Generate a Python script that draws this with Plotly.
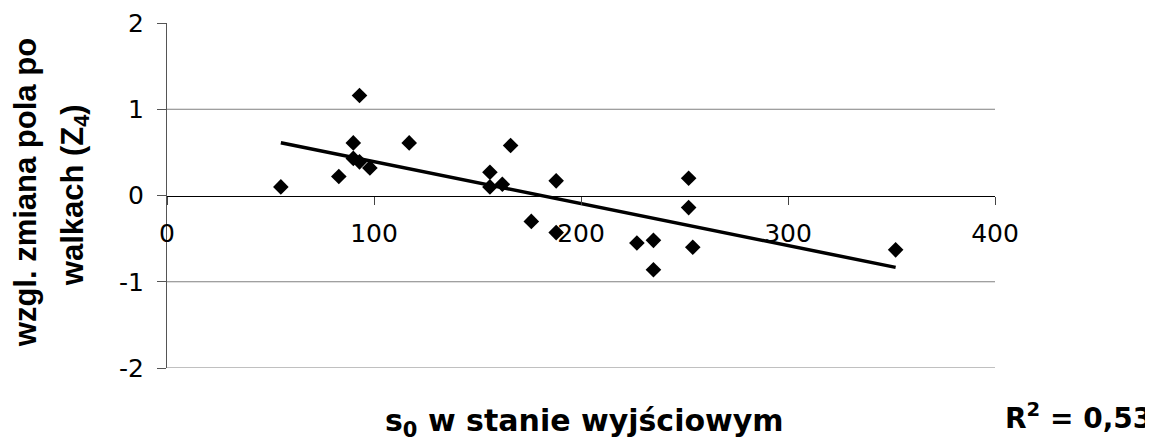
import numpy as np
import plotly.graph_objects as go

# Data
s0 = [55, 83, 90, 93, 90, 93, 98, 117, 156, 156, 162, 166, 188, 176, 188,
      227, 235, 235, 252, 252, 254, 352]
z4 = [0.10, 0.22, 0.61, 1.16, 0.43, 0.39, 0.32, 0.61, 0.27, 0.10, 0.13, 0.58,
      0.17, -0.30, -0.43, -0.55, -0.52, -0.86, 0.20, -0.14, -0.60, -0.63]
x_ticks = [0, 100, 200, 300, 400]
x_ticklabels = ["0", "100", "200", "300", "400"]
y_ticks = [-2, -1, 0, 1, 2]
y_ticklabels = ["-2", "-1", "0", "1", "2"]
grid_levels = [1, -1, -2]
x_title = "s<sub>0</sub> w stanie wyjściowym"
y_title_1 = "wzgl. zmiana pola po"
y_title_2 = "walkach (Z<sub>4</sub>)"
r2_text = "R<sup>2</sup> = 0,53"

# Linear trend from the data
coef = np.polyfit(s0, z4, 1)
tx = np.array([min(s0), max(s0)])
ty = np.polyval(coef, tx)

W, H = 1153, 443
OFF = 8  # page offset of the plot div
L, T = 167, 23          # screen pixel of plot area left / top
PW, PH = 828.5, 344.7   # plot area size
Lf, Tf = L - OFF, T - OFF
Rf = W - Lf - PW
Bf = H - Tf - PH


def px(xp):
    return (xp - L) / PW


def py(yp):
    return (T + PH - yp) / PH


FONT = "DejaVu Sans, sans-serif"
FONT_Y = "Liberation Sans, Arial, sans-serif"

fig = go.Figure()
fig.add_trace(go.Scatter(x=s0, y=z4, mode="markers",
                         marker=dict(symbol="diamond", size=12, color="black",
                                     line=dict(width=0)),
                         showlegend=False, cliponaxis=False))
fig.add_trace(go.Scatter(x=tx, y=ty, mode="lines",
                         line=dict(color="black", width=3.5),
                         showlegend=False))

for g in grid_levels:
    fig.add_shape(type="line", xref="x", yref="y", x0=0, x1=400, y0=g, y1=g,
                  line=dict(color="#808080", width=1), layer="below")

fig.update_layout(
    template="none",
    width=W, height=H,
    margin=dict(l=Lf, r=Rf, t=Tf, b=Bf, pad=0, autoexpand=False),
    paper_bgcolor="white", plot_bgcolor="white",
    font=dict(family=FONT, color="black"),
    xaxis=dict(range=[0, 400], tickvals=x_ticks, ticktext=x_ticklabels,
               showgrid=False, zeroline=False, automargin=False,
               showline=True, linecolor="black", linewidth=1,
               ticks="outside", ticklen=8, tickcolor="#444", tickwidth=1,
               anchor="free", position=0.5, ticklabelstandoff=7,
               tickfont=dict(size=25, family=FONT)),
    yaxis=dict(range=[-2, 2], tickvals=y_ticks, ticktext=y_ticklabels,
               showgrid=False, zeroline=False, automargin=False,
               showline=True, linecolor="#555", linewidth=1,
               ticks="outside", ticklen=9, tickcolor="#555", tickwidth=1,
               ticklabelstandoff=8,
               tickfont=dict(size=25, family=FONT)),
)

fig.add_annotation(text=f"<b>{x_title}</b>", xref="paper", yref="paper",
                   x=px(585), y=py(422), xanchor="center", yanchor="middle",
                   showarrow=False, font=dict(size=30, family=FONT))
fig.add_annotation(text=f"<b>{y_title_1}</b>", xref="paper", yref="paper",
                   x=px(25), y=py(193), xanchor="center", yanchor="middle",
                   showarrow=False, textangle=-90,
                   font=dict(size=31, family=FONT_Y))
fig.add_annotation(text=f"<b>{y_title_2}</b>", xref="paper", yref="paper",
                   x=px(75), y=py(195), xanchor="center", yanchor="middle",
                   showarrow=False, textangle=-90,
                   font=dict(size=31, family=FONT_Y))
fig.add_annotation(text=f"<b>{r2_text}</b>", xref="paper", yref="paper",
                   x=px(1004), y=py(416), xanchor="left", yanchor="middle",
                   showarrow=False, font=dict(size=28, family=FONT))

fig.write_html("out.html")
